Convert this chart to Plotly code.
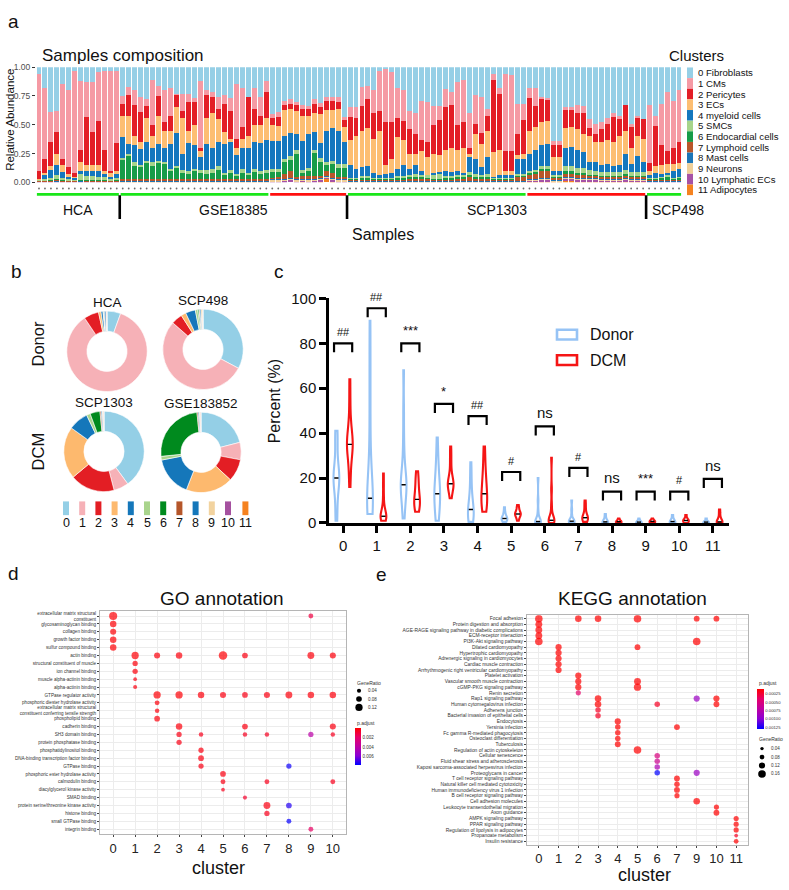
import numpy as np
import plotly.graph_objects as go

W, H = 789, 890
FONT = "Liberation Sans, Arial, Helvetica, sans-serif"


def px(x):
    return x / W


def py(y):
    return 1 - y / H


# ---------------- panel a : sample composition ----------------
cluster_labels = ["0 Fibroblasts", "1 CMs", "2 Pericytes", "3 ECs", "4 myeloid cells", "5 SMCs",
                  "6 Endocardial cells", "7 Lymphoid cells", "8 Mast cells", "9 Neurons",
                  "10 Lymphatic ECs", "11 Adipocytes"]
bar_colors = ["#96CFE6", "#F59AA4", "#E31E26", "#FDBE72", "#1477BE", "#A7D48A", "#179C48",
              "#B9562A", "#1A75B8", "#F0CF98", "#A652A6", "#F5821F"]

groups = [("HCA", "Donor", 14), ("GSE18385", "Donor", 25), ("GSE18385", "DCM", 13),
          ("SCP1303", "Donor", 30), ("SCP1303", "DCM", 20), ("SCP498", "Donor", 6)]

# upper edges of the stacked bands (fraction)
top_pink = [.94, .82, .61, .62, .85, .80, .97, .88, .87, .87, .96, .97, .97, .97,
            .75, .83, .80, .74, .72, .89, .84, .80, .82, .77, .77, .77, .73, .88, .80, .78, .74, .76, .73, .85,
            .82, .74, .82, .74, .88,
            .59, .61, .71, .72, .70, .67, .66, .72, .69, .74, .74, .74, .57,
            .65, .65, .83, .84, .80, .97, .98, .96, .82, .80, .62, .60, .71, .70, .66, .66, .81, .78, .87, .89,
            .60, .76, .74, .64, .94, .82, .94, .93, .68, .68,
            .82, .82, .74, .73, .36, .36, .65, .65, .67, .66, .55, .51, .52, .56, .60, .58, .67, .51, .58, .55,
            .67, .58, .68, .78, .71, .80]
top_red = [.10, .20, .35, .44, .20, .13, .08, .28, .57, .44, .53, .28, .10, .34,
           .68, .76, .67, .61, .66, .50, .75, .52, .58, .76, .62, .70, .70, .30, .76, .74, .64, .68, .62, .38,
           .48, .74, .64, .58, .78,
           .56, .57, .67, .68, .67, .64, .64, .68, .65, .71, .71, .70, .54,
           .57, .56, .66, .72, .60, .62, .52, .52, .56, .53, .46, .42, .37, .35, .50, .54, .65, .67, .50, .52,
           .30, .51, .43, .58, .89, .77, .27, .27, .42, .54,
           .73, .66, .72, .72, .32, .32, .63, .63, .60, .60, .47, .42, .46, .51, .57, .55, .67, .48, .56, .55,
           .17, .49, .32, .27, .30, .35]
top_orange = [.03, .08, .14, .25, .15, .07, .05, .18, .15, .15, .15, .10, .08, .10,
              .58, .58, .40, .35, .56, .40, .58, .45, .45, .65, .56, .45, .50, .27, .56, .60, .55, .44, .38, .30,
              .38, .40, .50, .50, .56,
              .50, .49, .63, .64, .62, .58, .58, .60, .59, .63, .63, .64, .48,
              .37, .40, .45, .47, .38, .45, .15, .20, .39, .37, .25, .25, .27, .22, .25, .24, .28, .30, .28, .30,
              .25, .42, .33, .45, .26, .28, .10, .10, .24, .25,
              .45, .48, .52, .53, .22, .22, .47, .48, .46, .42, .40, .35, .35, .37, .35, .40, .45, .30, .40, .38,
              .10, .14, .15, .16, .16, .17]
top_blue = [.025, .06, .11, .15, .09, .05, .04, .10, .10, .10, .10, .07, .05, .07,
            .39, .33, .32, .29, .35, .30, .33, .30, .33, .43, .25, .34, .32, .22, .33, .30, .35, .33, .35, .24,
            .30, .30, .35, .34, .37,
            .36, .36, .40, .43, .42, .36, .42, .44, .34, .45, .47, .45, .35,
            .15, .12, .13, .14, .08, .06, .07, .08, .12, .15, .12, .15, .10, .06, .08, .09, .10, .09, .10, .08,
            .22, .20, .13, .22, .05, .06, .06, .06, .20, .20,
            .25, .28, .32, .33, .10, .10, .30, .31, .28, .26, .18, .18, .15, .16, .14, .15, .25, .16, .23, .18,
            .06, .08, .07, .08, .10, .12]
# small clusters (fraction)
smc = [.005, .01, .02, .04, .02, .01, .01, .05, .04, .04, .03, .03, .02, .02,
       .02, .02, .03, .02, .02, .03, .02, .02, .02, .02, .02, .02, .02, .02, .03, .03, .03, .02, .02, .02,
       .03, .02, .03, .02, .02,
       .03, .03, .03, .03, .03, .03, .03, .03, .03, .03, .03, .03, .03,
       .01, .01, .02, .02, .01, .01, .01, .01, .02, .02, .02, .03, .02, .02, .04, .04, .02, .02, .02, .02,
       .03, .03, .02, .02, .01, .01, .01, .01, .02, .02,
       .02, .02, .03, .03, .02, .02, .05, .05, .04, .04, .04, .03, .03, .03, .03, .03, .03, .03, .03, .03,
       .01, .01, .01, .01, .01, .01]
endocardial = [.002, .002, .003, .003, .002, .002, .001, .002, .002, .002, .002, .002, .001, .002,
               .17, .20, .12, .10, .14, .12, .14, .13, .07, .10, .06, .05, .07, .06, .05, .06, .08, .04, .06, .03,
               .06, .04, .06, .05, .06,
               .05, .04, .10, .10, .20, .03, .04, .20, .12, .05, .08, .08, .08,
               .005, .005, .01, .01, .005, .005, .005, .005, .01, .01, .01, .01, .01, .005, .005, .005, .01, .01,
               .01, .01, .015, .01, .01, .015, .005, .005, .005, .005, .01, .01,
               .01, .01, .01, .01, .005, .005, .02, .02, .015, .015, .01, .01, .01, .01, .01, .01, .015, .01,
               .01, .01,
               .01, .01, .02, .03, .01, .02]
lymphoid = [.003, .004, .005, .01, .005, .004, .003, .006, .006, .006, .005, .004, .003, .004,
            .01, .01, .01, .015, .01, .01, .01, .01, .01, .01, .01, .01, .01, .01, .01, .01, .015, .01, .01, .01,
            .01, .01, .015, .01, .01,
            .01, .02, .04, .06, .02, .02, .03, .02, .02, .04, .04, .02, .02,
            .01, .01, .01, .01, .01, .01, .01, .01, .01, .01, .02, .02, .02, .02, .01, .01, .01, .01, .02, .02,
            .03, .02, .02, .02, .01, .01, .01, .01, .03, .03,
            .04, .05, .07, .07, .02, .02, .03, .03, .03, .03, .02, .02, .02, .02, .02, .02, .02, .02, .02, .02,
            .005, .005, .005, .005, .005, .005]
mast = [.005, .005, .005, .008, .005, .005, .004, .006, .005, .005, .005, .005, .004, .005,
        .005, .006, .005, .005, .005, .005, .005, .005, .005, .006, .005, .005, .005, .005, .005, .005, .006,
        .005, .005, .005, .005, .005, .005, .005, .005,
        .008, .008, .008, .008, .008, .008, .008, .008, .008, .008, .008, .008, .008,
        .005, .005, .005, .005, .005, .005, .005, .005, .005, .005, .005, .005, .005, .005, .005, .005, .005,
        .005, .005, .005, .005, .005, .005, .005, .005, .005, .005, .005, .005, .005,
        .006, .006, .006, .006, .006, .006, .006, .006, .006, .006, .006, .006, .006, .006, .006, .006, .006,
        .006, .006, .006,
        .005, .005, .005, .005, .005, .005]
neuron = [.003, .003, .003, .003, .003, .003, .003, .003, .003, .003, .003, .003, .003, .003,
          .005, .005, .005, .005, .005, .005, .005, .005, .005, .005, .005, .005, .005, .005, .005, .005, .005,
          .005, .005, .005, .005, .005, .005, .005, .005,
          .01, .01, .01, .01, .01, .01, .01, .01, .01, .01, .01, .01, .01,
          .005, .005, .005, .005, .005, .005, .005, .005, .005, .005, .005, .005, .005, .005, .005, .005, .005,
          .005, .005, .005, .005, .005, .005, .005, .005, .005, .005, .005, .005, .005,
          .008, .008, .008, .008, .008, .008, .008, .008, .008, .008, .008, .008, .008, .008, .008, .008, .008,
          .008, .008, .008,
          .005, .005, .005, .005, .005, .005]
lymphatic = [.002, .002, .002, .002, .002, .002, .002, .002, .002, .002, .002, .002, .002, .002,
             .003, .003, .003, .003, .003, .003, .003, .003, .003, .003, .003, .003, .003, .003, .003, .003,
             .003, .003, .003, .003, .003, .003, .003, .003, .003,
             .01, .01, .015, .02, .01, .01, .01, .015, .01, .01, .01, .01, .01,
             .003, .003, .003, .003, .003, .003, .003, .003, .003, .003, .003, .003, .003, .003, .003, .003,
             .003, .003, .003, .003, .003, .003, .003, .003, .003, .003, .003, .003, .003, .003,
             .01, .01, .015, .015, .005, .005, .02, .02, .02, .02, .015, .015, .01, .01, .01, .01, .015, .01,
             .01, .01,
             .005, .005, .005, .005, .005, .005]
adipocyte = [0, 0, 0, 0, 0, 0, 0, 0, 0, 0, 0, 0, 0, 0,
             .002, .002, .002, .002, .002, .002, .002, .002, .002, .002, .002, .002, .002, .002, .002, .002,
             .002, .002, .002, .002, .002, .002, .002, .002, .002,
             0, 0, 0, 0, 0, .003, 0, 0, .01, .03, .01, 0, 0,
             .002, .002, .002, .002, .002, .002, .002, .002, .002, .002, .002, .002, .002, .002, .002, .002,
             .002, .002, .002, .002, .002, .002, .002, .002, .002, .002, .002, .002, .002, .002,
             .005, .005, .005, .005, .002, .002, .01, .01, .005, .005, .005, .005, .005, .005, .005, .005, .01,
             .005, .005, .005,
             0, 0, 0, 0, 0, 0]

T1, T2, T3, T4 = map(np.array, (top_pink, top_red, top_orange, top_blue))
small = np.array([smc, endocardial, lymphoid, mast, neuron, lymphatic, adipocyte])
c4 = np.clip(T4 - small.sum(axis=0), 0, None)
comp = np.vstack([1 - T1, T1 - T2, T2 - T3, T3 - T4, c4, small])
comp = comp / comp.sum(axis=0)
n_samples = comp.shape[1]
idx = np.arange(n_samples)

fig = go.Figure()
for k in range(11, -1, -1):
    fig.add_trace(go.Bar(x=idx, y=comp[k], marker=dict(color=bar_colors[k], line=dict(width=0)),
                         xaxis="x", yaxis="y", showlegend=False, hoverinfo="skip"))

# sample strip under the bars
fig.add_trace(go.Scatter(x=idx, y=np.full(n_samples, 183.0), mode="markers",
                         marker=dict(size=1.8, color="#6b6b6b"), xaxis="x2", yaxis="y2",
                         showlegend=False, hoverinfo="skip"))
cond_color = {"Donor": "#19E619", "DCM": "#FF1010"}
shapes = []
annotations = []
start = 0
ds_spans = {}
for ds, cond, n in groups:
    s, e = start, start + n - 1
    fig.add_trace(go.Scatter(x=[s - 0.35, e + 0.35], y=[189, 189], mode="lines",
                             line=dict(color=cond_color[cond], width=2.6), xaxis="x2", yaxis="y2",
                             showlegend=False, hoverinfo="skip"))
    ds_spans.setdefault(ds, [s, e])
    ds_spans[ds][1] = e
    start += n
ds_order = ["HCA", "GSE18385", "SCP1303", "SCP498"]
for i, ds in enumerate(ds_order):
    s, e = ds_spans[ds]
    if i > 0:
        shapes.append(dict(type="line", xref="x2", yref="y2", x0=s - 0.5, x1=s - 0.5, y0=190, y1=214,
                           line=dict(color="black", width=2.6)))
    if ds == "SCP498":
        annotations.append(dict(x=s + 0.1, y=205, xref="x2", yref="y2", text=ds, showarrow=False,
                                xanchor="left", font=dict(size=14, color="#111")))
    else:
        annotations.append(dict(x=(s + e) / 2, y=205, xref="x2", yref="y2", text=ds, showarrow=False,
                                font=dict(size=14, color="#111")))

# cluster legend of panel a
for k, lab in enumerate(cluster_labels):
    yc = 65 + 10.85 * k
    shapes.append(dict(type="rect", xref="paper", yref="paper", x0=px(687), x1=px(693),
                       y0=py(yc + 5.4), y1=py(yc - 5.4), fillcolor=bar_colors[k], line=dict(width=0)))
    annotations.append(dict(x=px(696), y=py(yc), xref="paper", yref="paper", text=lab, showarrow=False,
                            xanchor="left", font=dict(size=9.6, color="#111")))

# ---------------- panel b : donuts ----------------
pie_colors = ["#94CFE6", "#F6B1B7", "#E31E24", "#FDB96E", "#1577BA", "#A9D48C", "#008A1E", "#B5562A",
              "#1577BA", "#F2D39F", "#A5519F", "#F58220"]
pie_names = ["HCA", "SCP498", "SCP1303", "GSE183852"]
pie_values = {
    "HCA": [5.5, 85, 6, 1, 0.8, 0.3, 0.1, 0.2, 0.6, 0.2, 0.1, 0.1],
    "SCP498": [33, 54, 4.5, 2, 4, 1, 0.5, 0.3, 0.5, 0.6, 0.1, 0.1],
    "SCP1303": [40, 6, 18, 21, 8, 1.5, 4, 0.5, 0.5, 0.3, 0.2, 0.1],
    "GSE183852": [21, 7, 9, 19, 16, 1.5, 25, 0.5, 0.5, 0.3, 0.2, 0.1],
}
pie_center = {"HCA": (107, 349), "SCP498": (203, 347), "SCP1303": (104, 451), "GSE183852": (201, 452)}
for name in pie_names:
    cx, cy = pie_center[name]
    r = 41
    fig.add_trace(go.Pie(values=pie_values[name], labels=[str(i) for i in range(12)],
                         marker=dict(colors=pie_colors, line=dict(color="white", width=0.6)),
                         hole=0.5, sort=False, direction="clockwise", rotation=0, textinfo="none",
                         domain=dict(x=[px(cx - r), px(cx + r)], y=[py(cy + r), py(cy - r)]),
                         showlegend=False, hoverinfo="skip"))
    annotations.append(dict(x=px(cx), y=py(cy - 50), xref="paper", yref="paper", text=name,
                            showarrow=False, font=dict(size=13.5, color="#111")))
annotations.append(dict(x=px(38), y=py(342), xref="paper", yref="paper", text="Donor", textangle=-90,
                        showarrow=False, font=dict(size=16.5, color="#111")))
annotations.append(dict(x=px(38), y=py(451), xref="paper", yref="paper", text="DCM", textangle=-90,
                        showarrow=False, font=dict(size=16.5, color="#111")))
for k in range(12):
    xc = 66 + 16.2 * k + (1.2 if k == 11 else 0)
    shapes.append(dict(type="rect", xref="paper", yref="paper", x0=px(xc - 3), x1=px(xc + 3),
                       y0=py(516), y1=py(502), fillcolor=pie_colors[k], line=dict(width=0)))
    annotations.append(dict(x=px(xc), y=py(524), xref="paper", yref="paper", text=str(k), showarrow=False,
                            font=dict(size=12.5, color="#111")))

# ---------------- panel c : violins ----------------
donor_pct = [
    [1, 3, 8, 14, 17, 18, 19, 20, 20, 21, 22, 24, 27, 33, 38, 40, 41],
    [4, 5, 6, 7, 8, 9, 10, 10, 11, 13, 15, 20, 30, 45, 60, 75, 90],
    [2, 5, 8, 12, 14, 15, 16, 17, 17, 18, 20, 22, 25, 30, 38, 50, 68],
    [1, 2, 4, 7, 10, 12, 13, 13, 14, 16, 19, 22, 26, 30, 38],
    [0.5, 1, 1.5, 2, 3, 4, 5, 6, 7, 8, 10, 13, 17, 22, 27],
    [0.5, 1, 1, 1.5, 2, 2, 2, 2.5, 3, 4, 5, 7],
    [0, 0.1, 0.2, 0.3, 0.5, 0.5, 0.8, 1, 2, 5, 10, 20],
    [0, 0.2, 0.4, 0.5, 0.6, 0.8, 1, 1.5, 3, 6, 10],
    [0, 0.1, 0.2, 0.3, 0.5, 0.8, 1.5, 2.5, 4],
    [0, 0.1, 0.2, 0.3, 0.5, 0.8, 1.2, 2],
    [0, 0.1, 0.3, 0.5, 0.8, 1.2, 2, 3.5],
    [0, 0.1, 0.2, 0.4, 0.6, 1, 2],
]
dcm_pct = [
    [16, 22, 27, 30, 32, 34, 35, 35, 36, 38, 40, 42, 47, 55, 64],
    [1, 1.5, 2, 2, 2.5, 3, 3, 3, 4, 5, 6, 8, 12, 17, 22],
    [5, 6, 7, 8, 9, 10, 10, 11, 13, 15, 17, 19, 21, 23],
    [11, 13, 15, 16, 17, 17, 17, 18, 19, 20, 22, 26, 30, 34],
    [5, 7, 8, 9, 10, 10, 11, 13, 16, 18, 19, 21, 25, 30, 34],
    [1, 2, 3, 3.5, 4, 4, 4, 4.5, 5, 6, 7, 8],
    [0, 0.2, 0.5, 0.8, 1, 1, 1.2, 1.5, 2, 4, 8, 15, 29],
    [0.5, 1, 1.5, 2, 2, 2.2, 2.5, 3, 4, 6, 8, 10],
    [0, 0.2, 0.4, 0.5, 0.6, 0.8, 1, 1.5, 2],
    [0, 0.2, 0.4, 0.6, 0.8, 1, 1.3, 2],
    [0, 0.3, 0.6, 1, 1.2, 1.5, 2, 3.5],
    [0, 0.1, 0.2, 0.3, 0.5, 1, 2, 4, 6],
]
sig_labels = ["##", "##", "***", "*", "##", "#", "ns", "#", "ns", "***", "#", "ns"]
bracket_top = [80, 95.6, 80, 53, 47.6, 22.7, 43, 24.5, 14, 14, 14, 19.6]
donor_col, dcm_col = "#96C3F5", "#F51515"

for vals_list, off, col in ((donor_pct, -0.2, donor_col), (dcm_pct, 0.2, dcm_col)):
    for k, vals in enumerate(vals_list):
        pos = round(k + off, 3)
        fig.add_trace(go.Violin(x=[pos] * len(vals), y=vals, xaxis="x3", yaxis="y3", width=0.17,
                                side="both", line=dict(color=col, width=2.1), fillcolor="white",
                                points=False, spanmode="hard", scalemode="width", showlegend=False,
                                hoverinfo="skip", box=dict(visible=False), meanline=dict(visible=False)))
    fig.add_trace(go.Scatter(x=[round(k + off, 3) for k in range(12)],
                             y=[float(np.median(v)) for v in vals_list],
                             mode="markers", marker=dict(symbol="line-ew", size=3,
                                                         line=dict(color="black", width=1.4)),
                             xaxis="x3", yaxis="y3", showlegend=False, hoverinfo="skip"))

for k in range(12):
    t = bracket_top[k]
    shapes.append(dict(type="path", xref="x3", yref="y3",
                       path=f"M {k-0.27},{t-4} L {k-0.27},{t} L {k+0.27},{t} L {k+0.27},{t-4}",
                       line=dict(color="black", width=2.2)))
    lab = sig_labels[k]
    size = 15 if lab == "ns" else (13 if "*" in lab else 11)
    annotations.append(dict(x=k, y=t + 1.5, xref="x3", yref="y3", text=lab, showarrow=False,
                            yanchor="bottom", font=dict(size=size, color="#111")))
# violin legend
for yc, col, lab in ((332, donor_col, "Donor"), (358, dcm_col, "DCM")):
    shapes.append(dict(type="rect", xref="paper", yref="paper", x0=px(557), x1=px(577), y0=py(yc + 5),
                       y1=py(yc - 5), line=dict(color=col, width=2.6), fillcolor="white"))
    annotations.append(dict(x=px(588), y=py(yc), xref="paper", yref="paper", text=lab, showarrow=False,
                            xanchor="left", font=dict(size=16, color="#111")))
annotations.append(dict(x=px(274), y=py(400), xref="paper", yref="paper", text="Percent (%)",
                        textangle=-90, showarrow=False, font=dict(size=16, color="#111")))

# ---------------- panel d : GO dot plot ----------------
go_terms = ["extracellular matrix structural<br>constituent", "glycosaminoglycan binding", "collagen binding",
            "growth factor binding", "sulfur compound binding", "actin binding",
            "structural constituent of muscle", "ion channel binding", "muscle alpha-actinin binding",
            "alpha-actinin binding", "GTPase regulator activity", "phosphoric diester hydrolase activity",
            "extracellular matrix structural<br>constituent conferring tensile strength", "phospholipid binding",
            "cadherin binding", "SH3 domain binding", "protein phosphatase binding",
            "phosphatidylinositol binding", "DNA-binding transcription factor binding", "GTPase binding",
            "phosphoric ester hydrolase activity", "calmodulin binding", "diacylglycerol kinase activity",
            "SMAD binding", "protein serine/threonine kinase activity", "histone binding",
            "small GTPase binding", "integrin binding"]
go_cluster = [0, 0, 0, 0, 0, 1, 1, 1, 1, 1, 2, 2, 2, 2, 2, 3, 3, 3, 3, 3, 4, 4, 4, 4, 4, 5, 5, 5, 5, 5,
              6, 6, 6, 6, 6, 7, 7, 7, 7, 7, 8, 8, 8, 8, 9, 9, 9, 9, 9, 10, 10, 10, 10, 10]
go_row = [1, 2, 3, 4, 5, 6, 7, 8, 9, 10, 6, 11, 12, 13, 14, 6, 11, 15, 16, 17, 11, 16, 18, 19, 20,
          6, 11, 21, 22, 23, 6, 11, 15, 16, 24, 11, 16, 22, 25, 26, 11, 20, 25, 27, 1, 6, 11, 16, 28,
          6, 11, 15, 16, 22]
go_ratio = [.14, .10, .09, .10, .10, .12, .07, .07, .03, .04, .09, .12, .06, .05, .08, .10, .12, .10, .07, .07,
            .10, .05, .07, .08, .07, .15, .09, .08, .06, .03, .08, .08, .08, .05, .04, .09, .05, .06, .11, .07,
            .11, .07, .08, .06, .06, .11, .10, .07, .06, .09, .10, .09, .05, .06]
go_padj = [.0001, .0001, .0001, .0001, .0001, .0001, .0002, .0002, .0003, .0003, .0002, .0001, .0002, .0002,
           .0002, .0002, .0001, .0002, .0004, .0004, .0002, .0005, .0003, .0003, .0004, .0001, .0003, .0003,
           .0004, .0005, .0003, .0004, .0003, .0006, .0008, .0003, .0006, .0005, .0003, .0005, .0002, .0075,
           .0072, .0076, .0012, .0002, .0002, .0040, .0018, .0002, .0002, .0003, .0006, .0005]
go_legend_ratio = [0.04, 0.08, 0.12]

# ---------------- panel e : KEGG dot plot ----------------
kegg_terms = ["Focal adhesion", "Protein digestion and absorption",
              "AGE-RAGE signaling pathway in diabetic complications", "ECM-receptor interaction",
              "PI3K-Akt signaling pathway", "Dilated cardiomyopathy", "Hypertrophic cardiomyopathy",
              "Adrenergic signaling in cardiomyocytes", "Cardiac muscle contraction",
              "Arrhythmogenic right ventricular cardiomyopathy", "Platelet activation",
              "Vascular smooth muscle contraction", "cGMP-PKG signaling pathway", "Renin secretion",
              "Rap1 signaling pathway", "Human cytomegalovirus infection", "Adherens junction",
              "Bacterial invasion of epithelial cells", "Endocytosis", "Yersinia infection",
              "Fc gamma R-mediated phagocytosis", "Osteoclast differentiation", "Tuberculosis",
              "Regulation of actin cytoskeleton", "Cellular senescence", "Fluid shear stress and atherosclerosis",
              "Kaposi sarcoma-associated herpesvirus infection", "Proteoglycans in cancer",
              "T cell receptor signaling pathway", "Natural killer cell mediated cytotoxicity",
              "Human immunodeficiency virus 1 infection", "B cell receptor signaling pathway",
              "Cell adhesion molecules", "Leukocyte transendothelial migration", "Axon guidance",
              "AMPK signaling pathway", "PPAR signaling pathway", "Regulation of lipolysis in adipocytes",
              "Propanoate metabolism", "Insulin resistance"]
kegg_clusters = ["0", "1", "2", "3", "4", "5", "6", "7", "9", "10", "11"]
kegg_cluster = ["0", "0", "0", "0", "0", "1", "1", "1", "1", "1", "2", "2", "2", "2", "2",
                "3", "3", "3", "3", "3", "4", "4", "4", "4", "4", "5", "5", "5", "5", "5",
                "6", "6", "6", "6", "6", "7", "7", "7", "7", "7", "9", "9", "9", "9", "9",
                "10", "10", "10", "10", "10", "11", "11", "11", "11", "11"]
kegg_row = [1, 2, 3, 4, 5, 6, 7, 8, 9, 10, 1, 11, 12, 13, 14, 1, 15, 16, 17, 18, 19, 20, 21, 22, 23,
            1, 6, 12, 13, 24, 16, 25, 26, 27, 28, 20, 29, 30, 31, 32, 1, 5, 15, 28, 33,
            1, 15, 16, 34, 35, 36, 37, 38, 39, 40]
kegg_ratio = [.16, .14, .14, .14, .16, .12, .12, .12, .12, .12, .13, .12, .12, .12, .09,
              .13, .13, .13, .10, .10, .12, .10, .10, .10, .11, .16, .11, .14, .15, .16,
              .10, .10, .10, .10, .10, .11, .11, .10, .11, .09, .11, .16, .12, .12, .13,
              .11, .12, .11, .09, .11, .09, .09, .09, .05, .08]
kegg_padj = [.0001, .0001, .0001, .0001, .0001, .0001, .0001, .0001, .0001, .0001, .0001, .0001, .0001,
             .0001, .0004, .0001, .0001, .0001, .0002, .0002, .0001, .0001, .0001, .0001, .0001, .0001,
             .0001, .0001, .0001, .0001, .0002, .0005, .0006, .0008, .0013, .0001, .0001, .0001, .0001,
             .0001, .0001, .0001, .0009, .0009, .0001, .0001, .0001, .0001, .0001, .0001, .0001, .0001,
             .0001, .0002, .0001]
kegg_legend_ratio = [0.04, 0.08, 0.12, 0.16]

# red (low p) -> blue (high p); colour by -p so red sits at the top of the bar
neg_scale = [[0, "#0000FF"], [0.25, "#8A00D4"], [0.5, "#BE00A2"], [0.75, "#E6006A"], [1, "#FF0000"]]


def go_size(r):
    return 2.5 + 40 * r


def kegg_size(r):
    return 2.0 + 35 * r


fig.add_trace(go.Scatter(
    x=go_cluster, y=go_row, mode="markers", xaxis="x4", yaxis="y4", showlegend=False, hoverinfo="skip",
    marker=dict(size=[go_size(r) for r in go_ratio], color=[-p for p in go_padj], colorscale=neg_scale,
                cmin=-0.0077, cmax=0, line=dict(width=0), showscale=True,
                colorbar=dict(x=px(355), xanchor="left", y=py(733), yanchor="top", len=37, lenmode="pixels",
                              thickness=6, thicknessmode="pixels", xpad=0, ypad=0, outlinewidth=0, ticks="",
                              tickvals=[-0.002, -0.004, -0.006], ticktext=["0.002", "0.004", "0.006"],
                              tickfont=dict(size=4.5, color="#333")))))
kx = [kegg_clusters.index(c) for c in kegg_cluster]
fig.add_trace(go.Scatter(
    x=kx, y=kegg_row, mode="markers", xaxis="x5", yaxis="y5", showlegend=False, hoverinfo="skip",
    marker=dict(size=[kegg_size(r) for r in kegg_ratio], color=[-p for p in kegg_padj],
                colorscale=neg_scale, cmin=-0.0013, cmax=-0.0001, line=dict(width=0), showscale=True,
                colorbar=dict(x=px(757), xanchor="left", y=py(693), yanchor="top", len=40, lenmode="pixels",
                              thickness=7, thicknessmode="pixels", xpad=0, ypad=0, outlinewidth=0, ticks="",
                              tickvals=[-0.00025, -0.0005, -0.00075, -0.001, -0.00125],
                              ticktext=["0.00025", "0.00050", "0.00075", "0.00100", "0.00125"],
                              tickfont=dict(size=4.2, color="#333")))))

# dot-size legends
annotations.append(dict(x=px(355), y=py(687), xref="paper", yref="paper", text="GeneRatio", showarrow=False,
                        xanchor="left", font=dict(size=5, color="#333")))
annotations.append(dict(x=px(355), y=py(728), xref="paper", yref="paper", text="p.adjust", showarrow=False,
                        xanchor="left", font=dict(size=5, color="#333")))
for i, r in enumerate(go_legend_ratio):
    yc = 695 + 8.5 * i
    d = go_size(r) / 2
    shapes.append(dict(type="circle", xref="paper", yref="paper", x0=px(359 - d), x1=px(359 + d),
                       y0=py(yc + d), y1=py(yc - d), fillcolor="black", line=dict(width=0)))
    annotations.append(dict(x=px(366), y=py(yc), xref="paper", yref="paper", text=f"{r:.2f}",
                            showarrow=False, xanchor="left", font=dict(size=4.5, color="#333")))
annotations.append(dict(x=px(757), y=py(687), xref="paper", yref="paper", text="p.adjust", showarrow=False,
                        xanchor="left", font=dict(size=5, color="#333")))
annotations.append(dict(x=px(757), y=py(744), xref="paper", yref="paper", text="GeneRatio", showarrow=False,
                        xanchor="left", font=dict(size=5, color="#333")))
for i, r in enumerate(kegg_legend_ratio):
    yc = 754 + 8.6 * i
    d = kegg_size(r) / 2
    shapes.append(dict(type="circle", xref="paper", yref="paper", x0=px(762 - d), x1=px(762 + d),
                       y0=py(yc + d), y1=py(yc - d), fillcolor="black", line=dict(width=0)))
    annotations.append(dict(x=px(769), y=py(yc), xref="paper", yref="paper", text=f"{r:.2f}",
                            showarrow=False, xanchor="left", font=dict(size=4.5, color="#333")))

# titles / panel letters
for txt, x, y, size, anchor in (("a", 6, 13, 19, "left"), ("b", 9, 268, 19, "left"), ("c", 272, 268, 19, "left"),
                                ("d", 6, 575, 19, "left"), ("e", 374, 577, 19, "left"),
                                ("Samples composition", 40, 47, 17, "left"), ("Clusters", 667, 47, 15, "left"),
                                ("Samples", 383, 230, 16, "center"), ("GO annotation", 222, 601, 19, "center"),
                                ("KEGG annotation", 632, 601, 19, "center"), ("cluster", 218, 876, 18, "center"),
                                ("cluster", 644, 883, 18, "center")):
    annotations.append(dict(x=px(x), y=py(y), xref="paper", yref="paper", text=txt, showarrow=False,
                            xanchor=anchor, font=dict(size=size, color="#111")))
annotations.append(dict(x=px(10), y=py(113), xref="paper", yref="paper", text="Relative Abundance",
                        textangle=-90, showarrow=False, font=dict(size=11.5, color="#111")))

for a in annotations:
    a.setdefault("xanchor", "center")
    a.setdefault("yanchor", "middle")

dot_axis_common = dict(showline=True, mirror=True, linecolor="#b5b5b5", linewidth=1, showgrid=True,
                       gridcolor="#ececec", gridwidth=0.7, zeroline=False, ticks="outside", ticklen=2,
                       tickcolor="#444")

fig.update_layout(
    width=W, height=H, autosize=False, margin=dict(l=0, r=0, t=0, b=0),
    paper_bgcolor="white", plot_bgcolor="white", font=dict(family=FONT, color="#111"),
    barmode="stack", bargap=0.17,
    xaxis=dict(domain=[px(36), px(682)], range=[-0.5, n_samples - 0.5], visible=False, anchor="y"),
    yaxis=dict(domain=[py(176.7), py(59.3)], range=[0, 1], anchor="x", tickvals=[0, 0.25, 0.5, 0.75, 1],
               ticktext=["0.00", "0.25", "0.50", "0.75", "1.00"], tickfont=dict(size=8.5, color="#4d4d4d"),
               ticks="outside", ticklen=3, tickcolor="#333", showline=False, showgrid=False, zeroline=False),
    xaxis2=dict(domain=[px(36), px(682)], range=[-0.5, n_samples - 0.5], visible=False, anchor="y2"),
    yaxis2=dict(domain=[py(232), py(178)], range=[232, 178], visible=False, anchor="x2"),
    xaxis3=dict(domain=[px(329), px(729)], range=[-0.42, 11.48], anchor="y3", tickvals=list(range(12)),
                ticks="outside", ticklen=7, tickwidth=2.5, tickcolor="black", showline=True, linewidth=2.5,
                linecolor="black", showgrid=False, zeroline=False, tickfont=dict(size=15, color="#111")),
    yaxis3=dict(domain=[py(524), py(295)], range=[0, 100], anchor="x3", dtick=20, ticks="outside", ticklen=7,
                tickwidth=2.5, tickcolor="black", showline=True, linewidth=2.5, linecolor="black",
                showgrid=False, zeroline=False, tickfont=dict(size=15, color="#111")),
    xaxis4=dict(domain=[px(100), px(346)], range=[-0.6, 10.6], anchor="y4", tickvals=list(range(11)),
                tickfont=dict(size=13, color="#222"), **dot_axis_common),
    yaxis4=dict(domain=[py(841), py(614)], range=[len(go_terms) + 0.6, 0.4], anchor="x4",
                tickvals=list(range(1, len(go_terms) + 1)), ticktext=go_terms,
                tickfont=dict(size=4.6, color="#333"), **dot_axis_common),
    xaxis5=dict(domain=[px(527), px(748)], range=[-0.6, len(kegg_clusters) - 0.4], anchor="y5",
                tickvals=list(range(len(kegg_clusters))), ticktext=kegg_clusters,
                tickfont=dict(size=13, color="#222"), **dot_axis_common),
    yaxis5=dict(domain=[py(852), py(618)], range=[len(kegg_terms) + 0.6, 0.4], anchor="x5",
                tickvals=list(range(1, len(kegg_terms) + 1)), ticktext=kegg_terms,
                tickfont=dict(size=4.9, color="#333"), **dot_axis_common),
    violinmode="overlay", violingap=0, violingroupgap=0,
    shapes=shapes, annotations=annotations,
)

fig.write_html("out.html")
